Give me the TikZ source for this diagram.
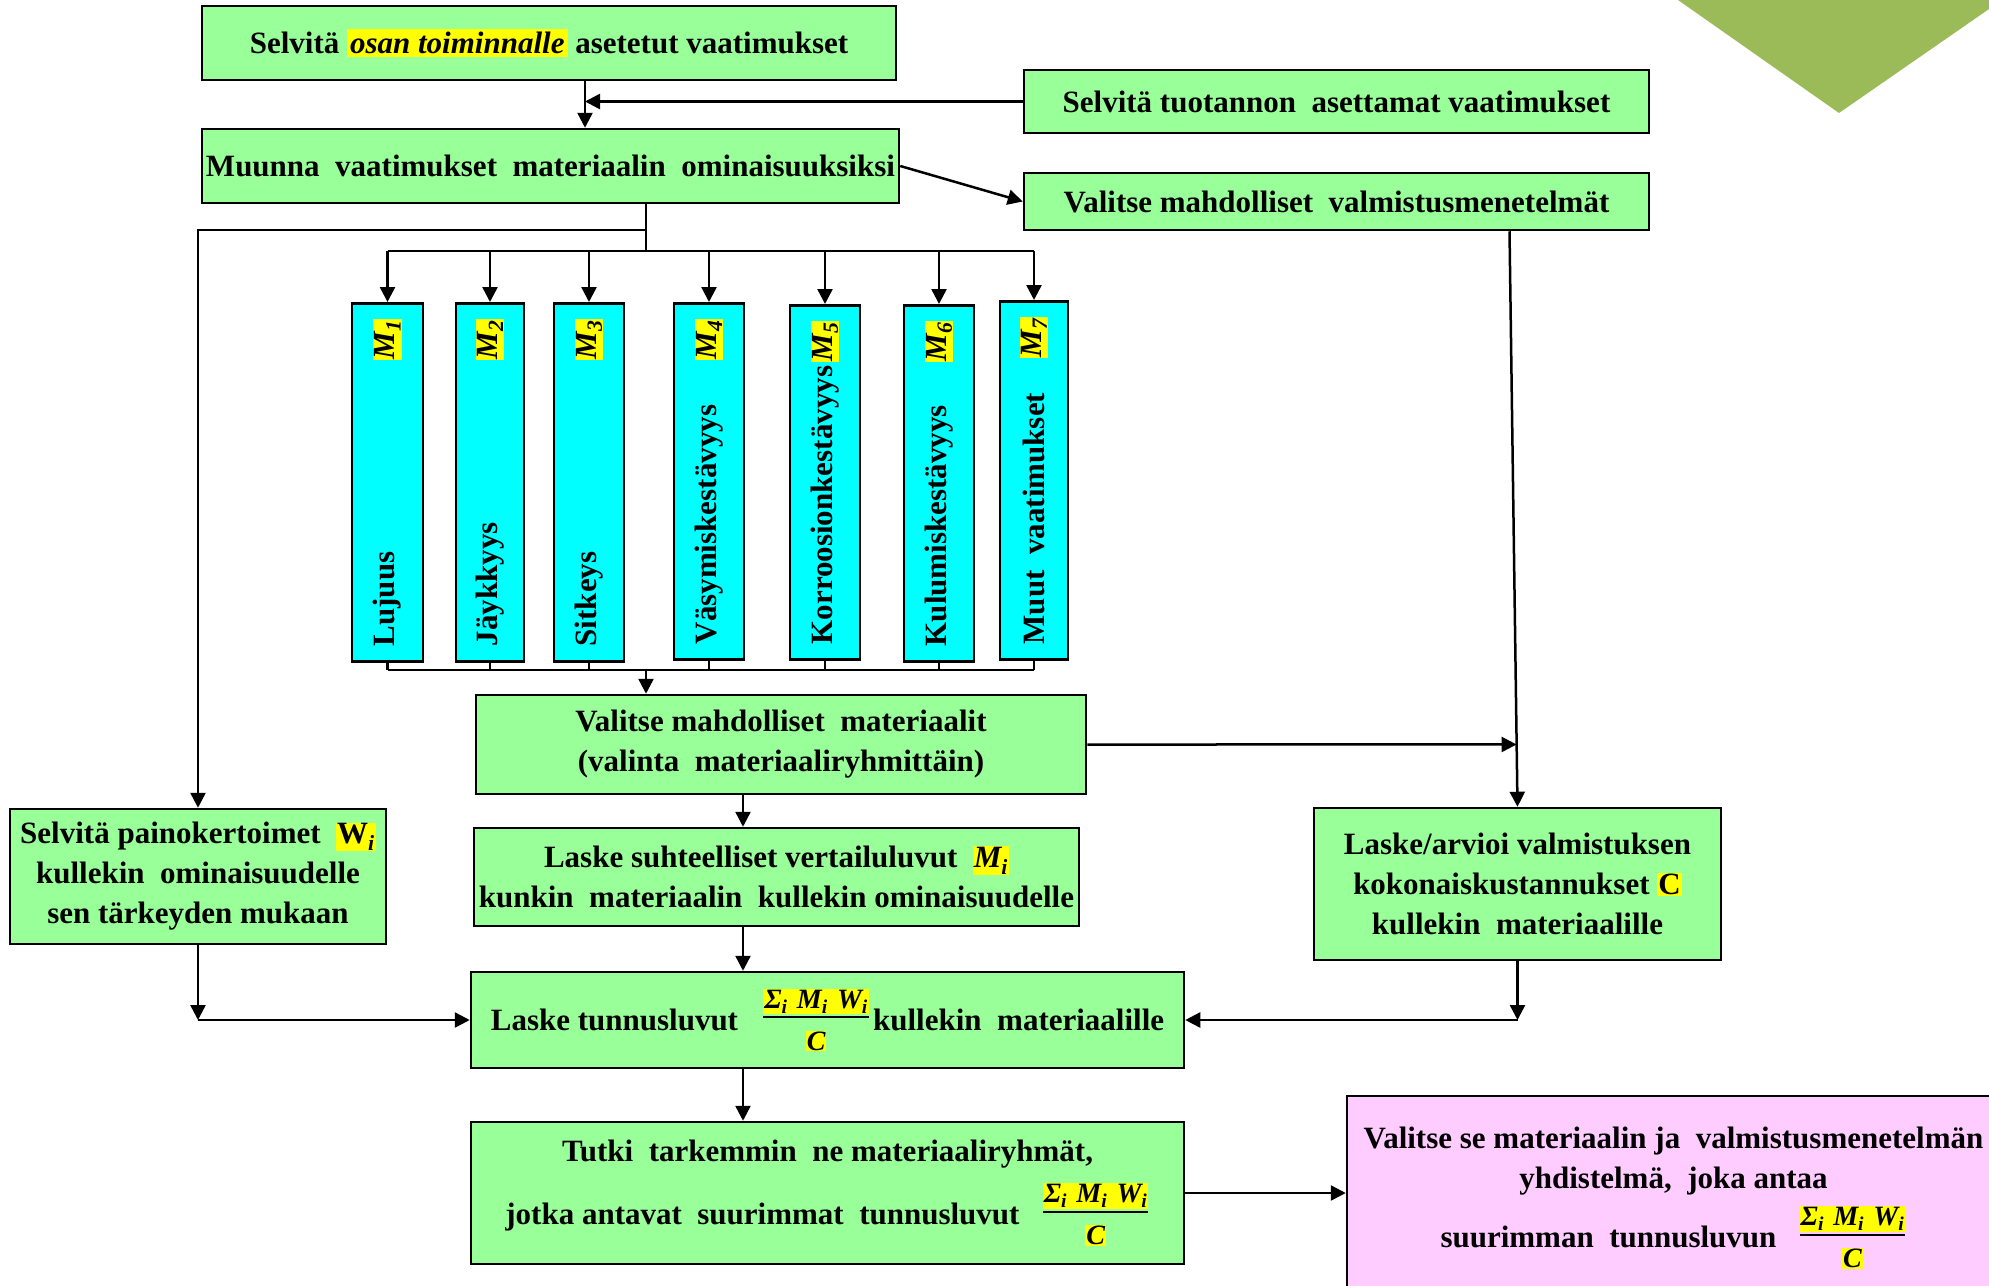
\documentclass[tikz,border=0pt]{standalone}
\usepackage{fontspec}
\usepackage{amsmath}
\setmainfont{Liberation Serif}
\usetikzlibrary{arrows.meta,calc}
\definecolor{boxgreen}{HTML}{99FF99}
\definecolor{mcyan}{HTML}{00FFFF}
\definecolor{hlyellow}{HTML}{FFFF00}
\definecolor{kpink}{HTML}{FFCCFF}
\definecolor{trigreen}{HTML}{9BBB59}
\newcommand\hl[1]{{\setlength{\fboxsep}{1pt}\colorbox{hlyellow}{#1}}}
\newcommand\bodyfont{\fontsize{31}{40}\selectfont\bfseries}
\newcommand\fracfont{\fontsize{28}{28}\selectfont\bfseries\itshape}
\newcommand\frc{\raisebox{7pt}{$\genfrac{}{}{2pt}{}{\hbox{\fracfont\hl{Σ\textsubscript{i}\,\,M\textsubscript{i}\,\,W\textsubscript{i}}\rule[-3pt]{0pt}{3pt}}}{\hbox{\rule{0pt}{30pt}\fracfont\hl{C}}}$}}
\tikzset{
  box/.style={draw=black, line width=2.5pt, fill=boxgreen, align=center, inner sep=0pt, font=\bodyfont},
  mbox/.style={draw=black, line width=2.5pt, fill=mcyan, inner sep=0pt, anchor=north},
  vtext/.style={rotate=90, font=\bodyfont, inner sep=0pt},
  ln/.style={line width=2.5pt},
  arr/.style={line width=2.5pt, -{Triangle[length=15pt,width=15pt]}},
}
\begin{document}
\begin{tikzpicture}[x=1pt,y=-1pt]
\useasboundingbox (0,0) rectangle (1989,1285);
\clip (0,0) rectangle (1989,1285);
\fill[white] (0,0) rectangle (1989,1285);
% decorative triangle
\fill[trigreen] (1678,0) -- (2002,0) -- (1839,113) -- cycle;

% boxes
\node[box, minimum width=694pt, minimum height=74pt] (a) at (549,43)
  {Selvitä {\setlength{\fboxsep}{3pt}\colorbox{hlyellow}{\itshape osan toiminnalle}} asetetut vaatimukset};
\node[box, minimum width=625pt, minimum height=63pt] (b) at (1336.5,101.5)
  {Selvitä tuotannon\ \ asettamat vaatimukset};
\node[box, minimum width=697pt, minimum height=74pt] (c) at (550.5,166)
  {Muunna\ \ vaatimukset\ \ materiaalin\ \ ominaisuuksiksi};
\node[box, minimum width=625pt, minimum height=57pt] (d) at (1336.5,201.5)
  {Valitse mahdolliset\ \ valmistusmenetelmät};

\foreach \n/\cx/\w/\tp/\h/\lab in {
  1/387.5/71/302/358/Lujuus,
  2/490/68/302/358/Jäykkyys,
  3/589/70/302/358/Sitkeys,
  4/709/70/302/356/Väsymiskestävyys,
  5/825/70/304/354/Korroosionkestävyys,
  6/939/70/304/356/Kulumiskestävyys,
  7/1034/68/300/358/Muut\ \ vaatimukset}{
  \node[mbox, minimum width=\w pt, minimum height=\h pt] (m\n) at (\cx,\tp) {};
  \node[vtext, anchor=west] (m\n t) at ($(m\n.south)+(0,-16)$) {\lab};
  \node[vtext, anchor=east] (m\n l) at ($(m\n.north)+(0,17)$) {\hl{\itshape M\textsubscript{\n}}};
}

\node[box, minimum width=610pt, minimum height=99pt] (e) at (781,744.5)
  {Valitse mahdolliset\ \ materiaalit\\(valinta\ \ materiaaliryhmittäin)};
\node[box, minimum width=407pt, minimum height=152pt] (f) at (1517.5,884)
  {Laske/arvioi valmistuksen\\kokonaiskustannukset \hl{C}\\kullekin\ \ materiaalille};
\node[box, minimum width=376pt, minimum height=135pt] (g) at (198,876.5)
  {Selvitä painokertoimet\ \ \hl{W\textsubscript{\itshape i}}\\kullekin\ \ ominaisuudelle\\sen tärkeyden mukaan};
\node[box, minimum width=605pt, minimum height=98pt] (h) at (776.5,877)
  {Laske suhteelliset vertailuluvut\ \ \hl{\itshape M\textsubscript{i}}\\kunkin\ \ materiaalin\ \ kullekin ominaisuudelle};
\node[box, minimum width=713pt, minimum height=96pt] (i) at (827.5,1020)
  {Laske tunnusluvut\hspace{24pt}\frc\hspace{3pt}kullekin\ \ materiaalille};
\node[box, minimum width=713pt, minimum height=142pt] (j) at (827.5,1193)
  {Tutki\ \ tarkemmin\ \ ne materiaaliryhmät,\\[14pt]jotka antavat\ \ suurimmat\ \ tunnusluvut\hspace{22pt}\frc};
\node[box, fill=kpink, minimum width=653pt, minimum height=204pt] (k) at (1673.5,1198)
  {Valitse se materiaalin ja\ \ valmistusmenetelmän\\yhdistelmä,\ \ joka antaa\\[10pt]suurimman\ \ tunnusluvun\hspace{22pt}\frc};

% helper coordinates
\coordinate (xac) at (585,0);
\coordinate (xc) at (646,0);
\coordinate (xe) at (743,0);
\coordinate (xdf) at (1509.5,0);
\coordinate (yj) at (0,230);
\coordinate (ytb) at (0,251);
\coordinate (ybb) at (0,670);

% connectors
\draw[arr] (a.south -| xac) -- (c.north -| xac);
\draw[arr] (b.west) -- (b.west -| xac);
\draw[arr] (c.east) -- (d.west);
\draw[ln] (c.south -| xc) -- (xc |- ytb);
\draw[arr] (xc |- yj) -- (g.north |- yj) -- (g.north);
\draw[ln] (m1.north |- ytb) -- (m7.north |- ytb);
\foreach \n in {1,...,7}{
  \draw[arr] (m\n.north |- ytb) -- (m\n.north);
  \draw[ln] (m\n.south) -- (m\n.south |- ybb);
}
\draw[ln] (m1.south |- ybb) -- (m7.south |- ybb);
\draw[arr] (xc |- ybb) -- (e.north -| xc);
\coordinate (dfs) at (d.south -| xdf);
\draw[arr] (dfs) -- (f.north);
\coordinate (eend) at (intersection cs: first line={(dfs)--(f.north)}, second line={(e.east)--($(e.east)+(100,0)$)});
\draw[arr] (e.east) -- (eend);
\draw[arr] (e.south -| xe) -- (h.north -| xe);
\draw[arr] (h.south -| xe) -- (i.north -| xe);
\draw[arr] (i.south -| xe) -- (j.north -| xe);
\coordinate (gc) at (g.south |- i.west);
\draw[arr] (g.south) -- (gc);
\draw[arr] (gc) -- (i.west);
\coordinate (fc) at (f.south |- i.east);
\draw[arr] (f.south) -- (fc);
\draw[arr] (fc) -- (i.east);
\draw[arr] (j.east) -- (k.west |- j.east);
\end{tikzpicture}
\end{document}
